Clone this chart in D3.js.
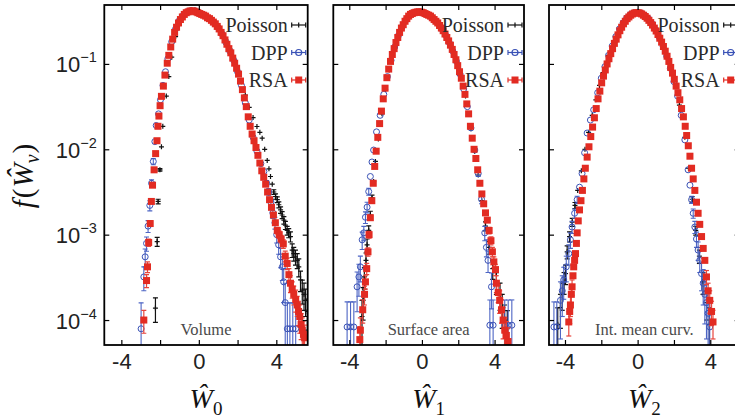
<!DOCTYPE html>
<html>
<head>
<meta charset="utf-8">
<script src="https://cdn.jsdelivr.net/npm/d3@7"></script>
<style>
  body { margin: 0; background: #fff; }
  svg { display: block; font-family: "Liberation Serif", "DejaVu Serif", serif; }
</style>
</head>
<body>
<script>
// each point: [x, f] or [x, f, sigma] (sigma only where an error bar shows)
const volPoisson = [
  [-2.24,1.38e-4,4.4e-5],[-2.15,8.3e-4,1e-4],[-2.10,2.45e-3,1.5e-4],[-2.01,5.75e-3,2e-4],[-1.93,1.07e-2],
  [-1.86,1.86e-2],[-1.68,4.2e-2],[-1.55,0.071],[-1.40,0.12],[-1.20,0.209],[-1.00,0.288],[-0.80,0.355],
  [-0.60,0.398],[-0.40,0.427],[-0.20,0.427],[0.00,0.412],[0.20,0.389],[0.40,0.363],[0.60,0.339],
  [0.80,0.309],[1.00,0.275],[1.20,0.234],[1.40,0.191],[1.60,0.151],[1.80,0.117],[2.00,0.087],
  [2.20,0.062],[2.40,0.043],[2.60,0.031],[2.80,0.0235],[3.00,0.0185],[3.15,0.0158],[3.27,0.0135],
  [3.40,0.010],[3.53,7.4e-3],[3.62,5.9e-3],[3.70,4.8e-3],[3.79,3.9e-3],[3.87,3.16e-3,2e-4],
  [3.96,2.8e-3,2e-4],[4.05,2.57e-3,2e-4],[4.13,2.24e-3,1.8e-4],[4.22,1.95e-3,1.7e-4],[4.30,1.7e-3,1.6e-4],
  [4.39,1.48e-3,1.5e-4],[4.47,1.29e-3,1.4e-4],[4.56,1.12e-3,1.3e-4],[4.64,1.05e-3,1.3e-4],
  [4.73,9.5e-4,1.3e-4],[4.82,6.6e-4,1.2e-4],[4.90,6.0e-4,1.1e-4],[4.99,5.5e-4,1.1e-4],[5.08,5.0e-4,1e-4],
  [5.16,4.2e-4,1e-4],[5.25,2.95e-4,8e-5],[5.34,2.24e-4,7e-5],[5.43,2.0e-4,7e-5],[5.51,1.7e-4,6e-5],
  [5.60,1.26e-4,5e-5]
];
const volDPP = [
  [-2.98,7.9e-5,8e-5],[-2.84,3.2e-4,1e-4],[-2.77,5.5e-4,1.3e-4],[-2.70,7.9e-4,1.5e-4],[-2.62,1.26e-3,2e-4],
  [-2.53,2.2e-3,3e-4],[-2.44,4.0e-3,4e-4],[-2.35,7.2e-3,6e-4],[-2.27,1.23e-2],[-2.20,1.9e-2],
  [-2.08,2.6e-2],[-1.98,3.8e-2],[-1.85,5.6e-2],[-1.72,8.1e-2],[-1.60,0.115],[-1.40,0.182],
  [-1.20,0.257],[-1.00,0.324],[-0.80,0.372],[-0.60,0.407],[-0.40,0.42],[-0.20,0.417],[0.00,0.398],
  [0.20,0.38],[0.40,0.355],[0.60,0.331],[0.80,0.302],[1.00,0.266],[1.20,0.224],[1.40,0.178],
  [1.60,0.141],[1.80,0.110],[2.00,0.081],[2.20,0.056],[2.40,0.035],[2.60,0.022],[2.80,0.0138],
  [3.00,9.5e-3],[3.20,6.8e-3],[3.36,5.5e-3],[3.50,4.0e-3,3e-4],[3.61,3.16e-3,3e-4],[3.72,2.4e-3,3e-4],
  [3.82,1.8e-3,2.5e-4],[3.93,1.38e-3,2.2e-4],[4.02,1.0e-3,2e-4],[4.12,7.6e-4,1.7e-4],[4.22,5.5e-4,1.4e-4],
  [4.31,4.2e-4,1.3e-4],[4.38,2.8e-4,1.2e-4],[4.46,1.6e-4,1.1e-4],[4.57,7.9e-5,8e-5],[4.70,7.9e-5,8e-5],
  [4.85,7.9e-5,8e-5],[5.00,7.9e-5,8e-5]
];
const volRSA = [
  [-2.84,1.0e-4,3e-5],[-2.70,2.9e-4,5e-5],[-2.65,4.2e-4,6e-5],[-2.59,8.1e-4,8e-5],[-2.51,1.35e-3,1e-4],
  [-2.45,2.45e-3],[-2.39,3.8e-3],[-2.31,5.75e-3],[-2.23,8.9e-3],[-2.16,1.26e-2],[-2.11,1.86e-2],
  [-2.06,2.45e-2],[-2.00,3.24e-2],[-1.93,4.17e-2],[-1.83,5.5e-2],[-1.75,7.4e-2],[-1.63,0.102],
  [-1.55,0.126],[-1.45,0.158],[-1.35,0.195],[-1.25,0.234],[-1.15,0.269],[-1.05,0.302],[-0.95,0.331],
  [-0.85,0.355],[-0.75,0.38],[-0.65,0.398],[-0.55,0.407],[-0.45,0.417],[-0.35,0.417],[-0.25,0.417],
  [-0.15,0.407],[-0.05,0.398],[0.05,0.389],[0.15,0.38],[0.25,0.372],[0.35,0.363],[0.45,0.347],
  [0.55,0.339],[0.65,0.324],[0.75,0.309],[0.85,0.295],[0.95,0.275],[1.05,0.257],[1.15,0.234],
  [1.25,0.214],[1.35,0.191],[1.45,0.17],[1.55,0.151],[1.65,0.135],[1.75,0.117],[1.85,0.102],
  [1.95,0.089],[2.05,0.076],[2.15,0.063],[2.25,0.05],[2.35,0.04],[2.45,0.0316],[2.55,0.024],
  [2.65,0.0186],[2.75,0.0151],[2.85,0.0126],[2.95,0.0105],[3.05,8.5e-3],[3.15,6.9e-3],[3.25,5.6e-3],
  [3.35,4.7e-3],[3.45,3.9e-3],[3.55,3.16e-3],[3.65,2.57e-3],[3.75,2.09e-3],[3.85,1.7e-3],[3.95,1.38e-3],
  [4.05,1.12e-3,1e-4],[4.15,1.0e-3,1e-4],[4.25,8.9e-4,9e-5],[4.36,7.8e-4,9e-5],[4.46,5.6e-4,8e-5],
  [4.56,4.6e-4,7e-5],[4.65,3.4e-4,6e-5],[4.73,2.7e-4,6e-5],[4.82,2.3e-4,5e-5],[4.90,2.0e-4,5e-5],
  [5.00,1.74e-4,5e-5],[5.08,1.5e-4,4e-5],[5.15,1.26e-4,4e-5],[5.21,1.1e-4,4e-5],[5.28,8.9e-5,3e-5],
  [5.34,7.6e-5,3e-5],[5.40,6.8e-5,3e-5],[5.46,6.2e-5,2.5e-5]
];

const surfPoisson = [
  [-3.30,1.1e-4,6e-5],[-3.24,1.7e-4,7e-5],[-3.17,3.2e-4,9e-5],[-3.08,5.0e-4,1.1e-4],[-3.02,7.6e-4,1.3e-4],
  [-2.93,1.12e-3,1.5e-4],[-2.84,1.7e-3,1.8e-4],[-2.75,2.7e-3,2e-4],[-2.66,4.2e-3],[-2.56,7.2e-3],
  [-2.40,1.32e-2],[-2.20,2.6e-2],[-2.00,5.0e-2],[-1.80,8.5e-2],[-1.50,0.151],[-1.20,0.234],
  [-0.90,0.316],[-0.60,0.38],[-0.30,0.403],[0.00,0.403],[0.30,0.38],[0.60,0.347],[0.90,0.295],
  [1.20,0.24],[1.50,0.182],[1.80,0.126],[2.10,0.079],[2.40,0.042],[2.70,0.0174],[2.90,9.5e-3],
  [3.10,5.0e-3],[3.30,2.5e-3],[3.50,1.26e-3,1.5e-4],[3.70,7.1e-4,1.2e-4],[3.90,4.0e-4,1e-4],
  [4.10,2.8e-4,8e-5],[4.30,2.0e-4,7e-5],[4.42,1.4e-4,6e-5],[4.55,1.0e-4,5e-5],[4.70,7.9e-5,5e-5]
];
const surfDPP = [
  [-4.12,8.3e-5,8e-5],[-3.93,8.3e-5,8e-5],[-3.75,8.3e-5,8e-5],[-3.57,2.45e-4,1.2e-4],[-3.47,3.2e-4,1.3e-4],
  [-3.39,4.2e-4,1.4e-4],[-3.29,8.7e-4,2e-4],[-3.20,1.05e-3,2e-4],[-3.11,1.6e-3,2.5e-4],[-3.02,2.1e-3,3e-4],
  [-2.93,3.2e-3,3e-4],[-2.84,4.8e-3],[-2.75,7.1e-3],[-2.66,9.8e-3],[-2.50,1.6e-2],[-2.30,2.5e-2],
  [-2.10,4.4e-2],[-1.90,7.1e-2],[-1.70,0.11],[-1.50,0.158],[-1.30,0.214],[-1.10,0.269],[-0.90,0.324],
  [-0.70,0.363],[-0.50,0.389],[-0.30,0.403],[-0.10,0.407],[0.10,0.398],[0.30,0.38],[0.50,0.355],
  [0.70,0.324],[0.90,0.295],[1.10,0.257],[1.30,0.219],[1.50,0.178],[1.70,0.141],[1.90,0.107],
  [2.10,0.076],[2.30,0.051],[2.50,0.0316],[2.70,0.0178],[2.91,9.8e-3],[3.10,5.2e-3,4e-4],
  [3.28,2.6e-3,3e-4],[3.46,1.05e-3,2e-4],[3.55,7.1e-4,1.6e-4],[3.64,5.0e-4,1.4e-4],[3.74,8.7e-5,8.5e-5],
  [3.83,2.45e-4,1.1e-4],[3.92,8.7e-5,8.5e-5],[4.56,8.7e-5,8.5e-5],[4.75,8.7e-5,8.5e-5],[4.95,8.7e-5,8.5e-5]
];
const surfRSA = [
  [-3.42,5.9e-5,2.5e-5],[-3.39,7.6e-5,3e-5],[-3.26,1.32e-4,4e-5],[-3.16,2.0e-4,5e-5],[-3.11,2.8e-4,5e-5],
  [-3.04,4.0e-4,6e-5],[-2.97,6.3e-4,7e-5],[-2.91,1.0e-3,9e-5],[-2.84,1.58e-3],[-2.76,2.5e-3],
  [-2.68,4.0e-3],[-2.60,6.3e-3],[-2.52,9.5e-3],[-2.43,1.38e-2],[-2.33,2.0e-2],[-2.23,2.8e-2],
  [-2.13,3.9e-2],[-2.03,5.2e-2],[-1.93,6.9e-2],[-1.83,8.7e-2],[-1.73,0.107],[-1.63,0.129],
  [-1.53,0.151],[-1.43,0.178],[-1.33,0.204],[-1.23,0.234],[-1.13,0.263],[-1.03,0.288],[-0.93,0.316],
  [-0.83,0.339],[-0.73,0.363],[-0.63,0.38],[-0.53,0.389],[-0.43,0.398],[-0.33,0.403],[-0.23,0.407],
  [-0.13,0.407],[-0.03,0.403],[0.07,0.398],[0.17,0.389],[0.27,0.38],[0.37,0.372],[0.47,0.363],
  [0.57,0.347],[0.67,0.331],[0.77,0.316],[0.87,0.302],[0.97,0.282],[1.07,0.263],[1.17,0.245],
  [1.27,0.224],[1.37,0.204],[1.47,0.186],[1.57,0.166],[1.67,0.148],[1.77,0.129],[1.87,0.112],
  [1.97,0.0955],[2.07,0.081],[2.17,0.068],[2.27,0.055],[2.37,0.044],[2.47,0.034],[2.57,0.026],
  [2.67,0.0186],[2.77,0.0135],[2.87,0.01],[2.97,7.8e-3],[3.07,5.75e-3],[3.19,4.0e-3],[3.30,3.0e-3],
  [3.40,2.3e-3],[3.50,1.8e-3],[3.60,1.48e-3],[3.70,1.12e-3,1e-4],[3.80,8.5e-4,9e-5],[3.88,6.3e-4,8e-5],
  [3.96,4.8e-4,7e-5],[4.05,3.9e-4,6e-5],[4.10,2.7e-4,6e-5],[4.20,2.1e-4,5e-5],[4.28,1.7e-4,5e-5],
  [4.38,1.32e-4,4e-5],[4.47,1.0e-4,4e-5],[4.56,7.6e-5,3e-5],[4.65,6.6e-5,3e-5],[4.74,5.6e-5,2.5e-5]
];

const curvPoisson = [
  [-4.40,8.9e-5,5e-5],[-4.25,1.4e-4,6e-5],[-4.15,2.0e-4,7e-5],[-4.05,2.8e-4,8e-5],[-3.97,3.5e-4,9e-5],
  [-3.88,6.3e-4,1.1e-4],[-3.75,9.5e-4,1.3e-4],[-3.60,1.4e-3,1.5e-4],[-3.45,2.2e-3,1.8e-4],[-3.30,3.3e-3],
  [-3.10,5.6e-3],[-2.90,1.0e-2],[-2.70,1.58e-2],[-2.50,2.5e-2],[-2.30,3.8e-2],[-2.10,5.6e-2],
  [-1.90,7.9e-2],[-1.60,0.126],[-1.30,0.186],[-1.00,0.257],[-0.70,0.324],[-0.40,0.38],[-0.10,0.403],
  [0.20,0.394],[0.50,0.355],[0.80,0.295],[1.10,0.229],[1.40,0.166],[1.70,0.107],[2.00,0.063],
  [2.30,0.033],[2.60,0.0138],[2.80,6.0e-3],[3.00,2.6e-3,2e-4],[3.20,1.12e-3,1.3e-4],[3.40,5.6e-4,1e-4],
  [3.60,2.8e-4,8e-5],[3.80,1.6e-4,6e-5],[3.95,8.9e-5,5e-5]
];
const curvDPP = [
  [-4.61,8.3e-5,8e-5],[-4.45,8.3e-5,8e-5],[-4.25,1.7e-4,1.1e-4],[-4.15,2.2e-4,1.1e-4],[-4.07,2.95e-4,1.2e-4],
  [-3.93,4.2e-4,1.4e-4],[-3.79,6.0e-4,1.6e-4],[-3.70,8.7e-4,1.8e-4],[-3.61,1.23e-3,2e-4],[-3.47,1.78e-3,2.2e-4],
  [-3.33,2.57e-3,2.5e-4],[-3.20,3.6e-3],[-3.06,5.2e-3],[-2.92,9.1e-3],[-2.78,1.55e-2],[-2.60,2.2e-2],
  [-2.42,2.9e-2],[-2.20,4.6e-2],[-2.00,6.8e-2],[-1.80,9.3e-2],[-1.60,0.126],[-1.40,0.162],[-1.20,0.209],
  [-1.00,0.257],[-0.80,0.302],[-0.60,0.347],[-0.40,0.38],[-0.20,0.398],[0.00,0.403],[0.20,0.394],
  [0.40,0.372],[0.60,0.339],[0.80,0.295],[1.00,0.251],[1.20,0.204],[1.40,0.162],[1.60,0.123],
  [1.80,0.089],[2.00,0.062],[2.20,0.042],[2.40,0.025],[2.60,0.0129],[2.78,5.75e-3],[2.88,3.8e-3],
  [2.97,2.57e-3,2.5e-4],[3.06,1.78e-3,2.2e-4],[3.15,1.23e-3,2e-4],[3.24,8.9e-4,1.8e-4],[3.33,6.6e-4,1.6e-4],
  [3.42,5.0e-4,1.4e-4],[3.52,3.5e-4,1.3e-4],[3.61,2.7e-4,1.2e-4],[3.70,2.0e-4,1.1e-4],[3.79,1.6e-4,1e-4],
  [3.88,1.2e-4,9e-5],[3.97,8.3e-5,8e-5]
];
const curvRSA = [
  [-3.79,9.5e-5,3e-5],[-3.74,1.26e-4,3.5e-5],[-3.70,1.5e-4,4e-5],[-3.65,2.0e-4,4e-5],[-3.61,2.45e-4,5e-5],
  [-3.56,3.3e-4],[-3.52,4.2e-4],[-3.47,5.0e-4],[-3.42,6.0e-4],[-3.37,7.9e-4],[-3.33,1.05e-3],
  [-3.27,1.45e-3],[-3.20,1.95e-3],[-3.12,2.5e-3],[-3.04,3.3e-3],[-2.96,4.5e-3],[-2.88,6.0e-3],
  [-2.78,8.1e-3],[-2.68,1.07e-2],[-2.58,1.41e-2],[-2.48,1.82e-2],[-2.38,2.34e-2],[-2.28,3.0e-2],
  [-2.18,3.9e-2],[-2.08,4.8e-2],[-1.98,6.0e-2],[-1.88,7.2e-2],[-1.78,8.5e-2],[-1.68,0.1],[-1.58,0.115],
  [-1.48,0.132],[-1.38,0.151],[-1.28,0.174],[-1.18,0.195],[-1.08,0.219],[-0.98,0.245],[-0.88,0.269],
  [-0.78,0.295],[-0.68,0.316],[-0.58,0.339],[-0.48,0.355],[-0.38,0.372],[-0.28,0.385],[-0.18,0.394],
  [-0.08,0.398],[0.02,0.398],[0.12,0.394],[0.22,0.385],[0.32,0.372],[0.42,0.359],[0.52,0.343],
  [0.62,0.324],[0.72,0.305],[0.82,0.285],[0.92,0.263],[1.02,0.243],[1.12,0.221],[1.22,0.2],[1.32,0.18],
  [1.42,0.16],[1.52,0.141],[1.62,0.123],[1.72,0.107],[1.82,0.091],[1.92,0.078],[2.02,0.066],[2.12,0.055],
  [2.22,0.046],[2.32,0.038],[2.42,0.03],[2.52,0.024],[2.62,0.0186],[2.70,0.0145],[2.79,0.011],
  [2.88,8.3e-3],[2.97,6.0e-3],[3.06,4.5e-3],[3.15,3.3e-3],[3.24,2.4e-3],[3.33,1.78e-3],[3.42,1.32e-3],
  [3.52,9.5e-4],[3.61,6.9e-4],[3.70,5.0e-4],[3.79,3.2e-4,6e-5],[3.88,2.2e-4,5e-5],[3.97,1.7e-4,5e-5],
  [4.07,1.26e-4,4e-5],[4.15,9.5e-5,3.5e-5]
];

const seriesNames = ["Poisson", "DPP", "RSA"];
const panelLabels = ["Volume", "Surface area", "Int. mean curv."];
const xSubs = ["0", "1", "2"];
const xTicks = [-4, -2, 0, 2, 4];
const xLabelTicks = [-4, 0, 4];
const yTicks = [1e-1, 1e-2, 1e-3, 1e-4];
const xDomain = [-4.88, 5.62];
const yDomain = [5.1e-5, 0.49];

const W = 735, H = 420;
const plotTop = 5, plotBottom = 345;
const panelBox = [[104.3, 307.7], [333.3, 524], [549, 739.7]];
const data = [
  [volPoisson, volDPP, volRSA],
  [surfPoisson, surfDPP, surfRSA],
  [curvPoisson, curvDPP, curvRSA]
];
const colors = ["#111111", "#3a52b6", "#e22b22"];
const barColors = ["#111111", "#4d65c4", "#e8453c"];

const svg = d3.select("body").append("svg").attr("width", W).attr("height", H);
const y = d3.scaleLog().domain(yDomain).range([plotBottom, plotTop]);

function drawPoints(g, x, pts, k) {
  const withErr = pts.filter((d) => d.length > 2);
  const lowOf = (d) => Math.max(d[1] - d[2], 1e-7);
  const cap = 2.5;
  const eg = g.append("g").attr("stroke", barColors[k]).attr("stroke-width", k === 1 ? 1.1 : 1.2).attr("fill", "none");
  eg.selectAll("line.v").data(withErr).enter().append("line")
    .attr("x1", (d) => x(d[0])).attr("x2", (d) => x(d[0]))
    .attr("y1", (d) => y(d[1] + d[2])).attr("y2", (d) => y(lowOf(d)));
  eg.selectAll("line.t").data(withErr).enter().append("line")
    .attr("x1", (d) => x(d[0]) - cap).attr("x2", (d) => x(d[0]) + cap)
    .attr("y1", (d) => y(d[1] + d[2])).attr("y2", (d) => y(d[1] + d[2]));
  eg.selectAll("line.b").data(withErr.filter((d) => d[1] - d[2] > yDomain[0])).enter().append("line")
    .attr("x1", (d) => x(d[0]) - cap).attr("x2", (d) => x(d[0]) + cap)
    .attr("y1", (d) => y(lowOf(d))).attr("y2", (d) => y(lowOf(d)));

  if (k === 0) {
    const mg = g.append("g").attr("stroke", colors[0]).attr("stroke-width", 1.2);
    mg.selectAll("line.h").data(pts).enter().append("line")
      .attr("x1", (d) => x(d[0]) - 2.5).attr("x2", (d) => x(d[0]) + 2.5)
      .attr("y1", (d) => y(d[1])).attr("y2", (d) => y(d[1]));
    mg.selectAll("line.vv").data(pts).enter().append("line")
      .attr("x1", (d) => x(d[0])).attr("x2", (d) => x(d[0]))
      .attr("y1", (d) => y(d[1]) - 2.5).attr("y2", (d) => y(d[1]) + 2.5);
  } else if (k === 1) {
    g.append("g").selectAll("circle").data(pts).enter().append("circle")
      .attr("cx", (d) => x(d[0])).attr("cy", (d) => y(d[1])).attr("r", 3)
      .attr("fill", "none").attr("stroke", colors[1]).attr("stroke-width", 1);
  } else {
    g.append("g").selectAll("rect").data(pts).enter().append("rect")
      .attr("x", (d) => x(d[0]) - 3.5).attr("y", (d) => y(d[1]) - 3.5)
      .attr("width", 7).attr("height", 7).attr("fill", colors[2]);
  }
}

panelBox.forEach(([left, right], p) => {
  const x = d3.scaleLinear().domain(xDomain).range([left, right]);
  const g = svg.append("g");
  const clipId = "clip" + p;
  svg.append("clipPath").attr("id", clipId).append("rect")
    .attr("x", left).attr("y", plotTop).attr("width", right - left).attr("height", plotBottom - plotTop);

  const plot = g.append("g").attr("clip-path", `url(#${clipId})`);
  data[p].forEach((pts, k) => drawPoints(plot, x, pts, k));

  // panel label with white backing
  const lab = g.append("text").attr("x", (left + right) / 2).attr("y", plotBottom - 10)
    .attr("text-anchor", "middle").attr("font-size", 16.5).attr("fill", "#4a4a4a")
    .text(panelLabels[p]);
  const bb = lab.node().getBBox();
  g.insert("rect", "text").attr("x", bb.x - 3).attr("y", bb.y - 1)
    .attr("width", bb.width + 6).attr("height", bb.height + 2).attr("fill", "#fff");

  // legend
  const lx = right - 9;
  seriesNames.forEach((name, k) => {
    const ly = 25 + k * 27.5;
    g.append("text").attr("x", right - 20).attr("y", ly + 7).attr("text-anchor", "end")
      .attr("font-size", 20).attr("fill", "#2a2a2a").text(name);
    const mk = g.append("g").attr("stroke", colors[k]).attr("stroke-width", 1.2).attr("fill", "none");
    mk.append("line").attr("x1", lx - 7).attr("x2", lx + 7).attr("y1", ly).attr("y2", ly);
    mk.append("line").attr("x1", lx - 7).attr("x2", lx - 7).attr("y1", ly - 2.5).attr("y2", ly + 2.5);
    mk.append("line").attr("x1", lx + 7).attr("x2", lx + 7).attr("y1", ly - 2.5).attr("y2", ly + 2.5);
    if (k === 0) mk.append("line").attr("x1", lx).attr("x2", lx).attr("y1", ly - 2.5).attr("y2", ly + 2.5);
    if (k === 1) mk.append("circle").attr("cx", lx).attr("cy", ly).attr("r", 3);
    if (k === 2) mk.append("rect").attr("x", lx - 3.5).attr("y", ly - 3.5).attr("width", 7).attr("height", 7)
      .attr("fill", colors[2]).attr("stroke", "none");
  });

  // axes (inward ticks)
  const tickStyle = (sel) => {
    sel.select(".domain").remove();
    sel.selectAll(".tick line").attr("stroke", "#000").attr("stroke-width", 1.2);
  };
  g.append("g").attr("transform", `translate(0,${plotBottom})`)
    .call(d3.axisBottom(x).tickValues(xTicks).tickSize(-5)
      .tickFormat((d) => (xLabelTicks.includes(d) ? String(d) : "")))
    .call(tickStyle)
    .call((a) => a.selectAll(".tick text").attr("font-family", null).attr("font-size", 22)
      .attr("fill", "#222").attr("dy", null).attr("y", 24));
  g.append("g").attr("transform", `translate(0,${plotTop})`)
    .call(d3.axisTop(x).tickValues(xTicks).tickSize(-5).tickFormat("")).call(tickStyle);
  g.append("g").attr("transform", `translate(${right},0)`)
    .call(d3.axisRight(y).tickValues(yTicks).tickSize(-5).tickFormat("")).call(tickStyle);
  const ya = g.append("g").attr("transform", `translate(${left},0)`)
    .call(d3.axisLeft(y).tickValues(yTicks).tickSize(-5).tickFormat("")).call(tickStyle);
  if (p === 0) {
    ya.selectAll(".tick text").each(function (d) {
      const t = d3.select(this).attr("font-family", null).attr("font-size", 22).attr("fill", "#222")
        .attr("x", -7.5).attr("dy", null).attr("y", 8).attr("text-anchor", "end");
      t.text(null);
      t.append("tspan").text("10");
      t.append("tspan").attr("font-size", 14.5).attr("dy", -10).text("\u2212" + Math.round(-Math.log10(d)));
    });
  }

  g.append("rect").attr("x", left).attr("y", plotTop).attr("width", right - left).attr("height", plotBottom - plotTop)
    .attr("fill", "none").attr("stroke", "#000").attr("stroke-width", 1.8);

  // x title
  const xt = g.append("text").attr("x", (left + right) / 2).attr("y", 408)
    .attr("text-anchor", "middle").attr("font-size", 28).attr("fill", "#111");
  xt.append("tspan").attr("font-style", "italic").text("\u0174");
  xt.append("tspan").attr("font-size", 19).attr("dy", 7).text(xSubs[p]);
});

// y title
const yt = svg.append("text").attr("transform", "translate(33,176) rotate(-90)")
  .attr("text-anchor", "middle").attr("font-size", 29).attr("fill", "#111");
yt.append("tspan").attr("font-style", "italic").text("f");
yt.append("tspan").attr("dx", 2).text("(");
yt.append("tspan").attr("font-style", "italic").attr("dx", 1).text("\u0174");
yt.append("tspan").attr("font-style", "italic").attr("font-size", 20).attr("dy", 6).text("\u03bd");
yt.append("tspan").attr("dx", 1).attr("dy", -6).text(")");
</script>
</body>
</html>
